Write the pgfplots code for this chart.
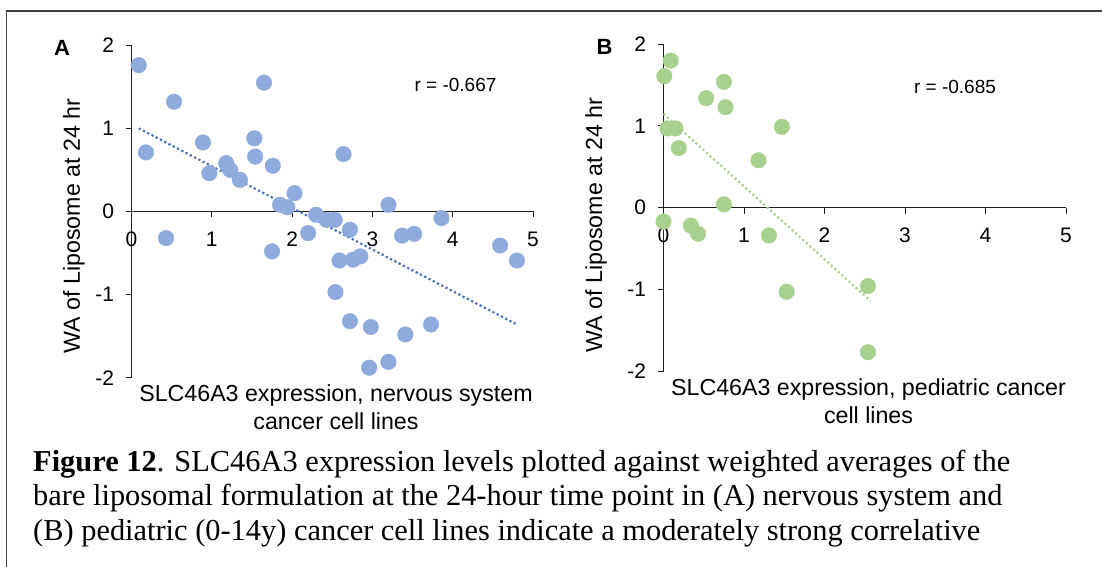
\documentclass[border=0pt]{standalone}
\usepackage{pgfplots}
\pgfplotsset{compat=1.18}
\usepackage{fontspec}
\setmainfont{Liberation Serif}
\newfontfamily\arial{Liberation Sans}
\definecolor{ptA}{RGB}{143,170,220}
\definecolor{lnA}{RGB}{68,114,196}
\definecolor{ptB}{RGB}{169,209,142}
\definecolor{axc}{RGB}{30,30,30}
\pgfplotsset{
  panel/.style={
    scale only axis, clip=false,
    xmin=0, xmax=5, ymin=-2, ymax=2,
    axis lines*=middle,
    xtick={0,1,2,3,4,5}, ytick={-2,-1,0,1,2},
    xticklabels={0,1,2,3,4,5}, yticklabels={-2,-1,0,1,2},
    hide obscured x ticks=false, hide obscured y ticks=false,
    tick align=outside, major tick length=6pt,
    every tick/.style={axc, line width=1pt},
    axis line style={axc, line width=1pt},
    ticklabel style={font=\arial\fontsize{21}{21}\selectfont},
    xticklabel style={yshift=-11pt},
    yticklabel style={xshift=-8pt},
  },
}
\begin{document}
\begin{tikzpicture}
\path[use as bounding box] (0pt,0pt) rectangle (1102pt,-567pt);
\draw[axc!85, line width=1.8pt] (6.5pt,-567pt) -- (6.5pt,-10.8pt) -- (1102pt,-10.8pt);

% Panel A
\begin{axis}[panel, at={(131.5pt,-377.7pt)}, anchor=south west,
  width=401.5pt, height=332.5pt]
\addplot[only marks, mark=*, mark size=7.8pt, color=ptA, mark options={draw=none, fill=ptA}]
coordinates {
(0.09,1.76) (0.53,1.32) (1.65,1.55) (0.18,0.71) (0.89,0.83) (0.97,0.46)
(1.18,0.58) (1.23,0.50) (1.35,0.38) (1.53,0.88) (1.54,0.66) (1.76,0.55)
(2.03,0.22) (1.85,0.08) (1.94,0.05) (2.64,0.69) (3.20,0.08) (3.86,-0.08)
(2.30,-0.04) (2.43,-0.10) (2.53,-0.10) (2.20,-0.26) (2.72,-0.22) (0.43,-0.32)
(3.37,-0.29) (3.52,-0.27) (1.75,-0.48) (2.59,-0.59) (2.76,-0.58) (2.85,-0.54)
(4.59,-0.41) (4.80,-0.59) (2.54,-0.97) (2.72,-1.32) (2.98,-1.39) (3.41,-1.48)
(3.73,-1.36) (2.96,-1.88) (3.20,-1.81)
};
\addplot[lnA, line width=2.2pt, dash pattern=on 2.2pt off 2.6pt] coordinates {(0.09,1.00) (4.80,-1.36)};
\end{axis}

% Panel B
\begin{axis}[panel, at={(663.5pt,-371pt)}, anchor=south west,
  width=402.5pt, height=326.7pt]
\addplot[only marks, mark=*, mark size=7.8pt, color=ptB, mark options={draw=none, fill=ptB}]
coordinates {
(0.09,1.80) (0.01,1.61) (0.75,1.54) (0.53,1.34) (0.77,1.23) (1.47,0.99)
(0.05,0.97) (0.15,0.97) (0.19,0.73) (1.18,0.58) (0.75,0.04) (0.00,-0.17)
(0.34,-0.22) (0.43,-0.32) (1.31,-0.34) (1.53,-1.03) (2.54,-0.96) (2.54,-1.77)
};
\addplot[ptB, line width=2.2pt, dash pattern=on 2.2pt off 2.6pt] coordinates {(0.00,1.15) (2.57,-1.14)};
\end{axis}

% Panel texts
\node[font=\arial\bfseries\fontsize{22}{22}\selectfont] at (62pt,-48pt) {A};
\node[font=\arial\bfseries\fontsize{22}{22}\selectfont] at (604.5pt,-47.3pt) {B};
\node[font=\arial\fontsize{19}{19}\selectfont] at (455.5pt,-85pt) {r = -0.667};
\node[font=\arial\fontsize{19}{19}\selectfont] at (955pt,-87.3pt) {r = -0.685};
\node[rotate=90, font=\arial\fontsize{23.2}{23.2}\selectfont] at (74pt,-226pt) {WA of Liposome at 24 hr};
\node[rotate=90, font=\arial\fontsize{23.2}{23.2}\selectfont] at (596pt,-225pt) {WA of Liposome at 24 hr};
\node[font=\arial\fontsize{23.2}{23.2}\selectfont] at (336pt,-395pt) {SLC46A3 expression, nervous system};
\node[font=\arial\fontsize{23.2}{23.2}\selectfont] at (336pt,-421.7pt) {cancer cell lines};
\node[font=\arial\fontsize{23.2}{23.2}\selectfont] at (868.5pt,-389.3pt) {SLC46A3 expression, pediatric cancer};
\node[font=\arial\fontsize{23.2}{23.2}\selectfont] at (868.5pt,-415.7pt) {cell lines};

% Caption
\node[anchor=base west, inner sep=0pt, font=\fontsize{30.4}{30.4}\selectfont] at (33pt,-471pt)
  {\textbf{Figure 12}. SLC46A3 expression levels plotted against weighted averages of the};
\node[anchor=base west, inner sep=0pt, font=\fontsize{30.4}{30.4}\selectfont] at (33pt,-505.5pt)
  {bare liposomal formulation at the 24-hour time point in (A) nervous system and};
\node[anchor=base west, inner sep=0pt, font=\fontsize{30.4}{30.4}\selectfont] at (33pt,-540pt)
  {(B) pediatric (0-14y) cancer cell lines indicate a moderately strong correlative};
\end{tikzpicture}
\end{document}
